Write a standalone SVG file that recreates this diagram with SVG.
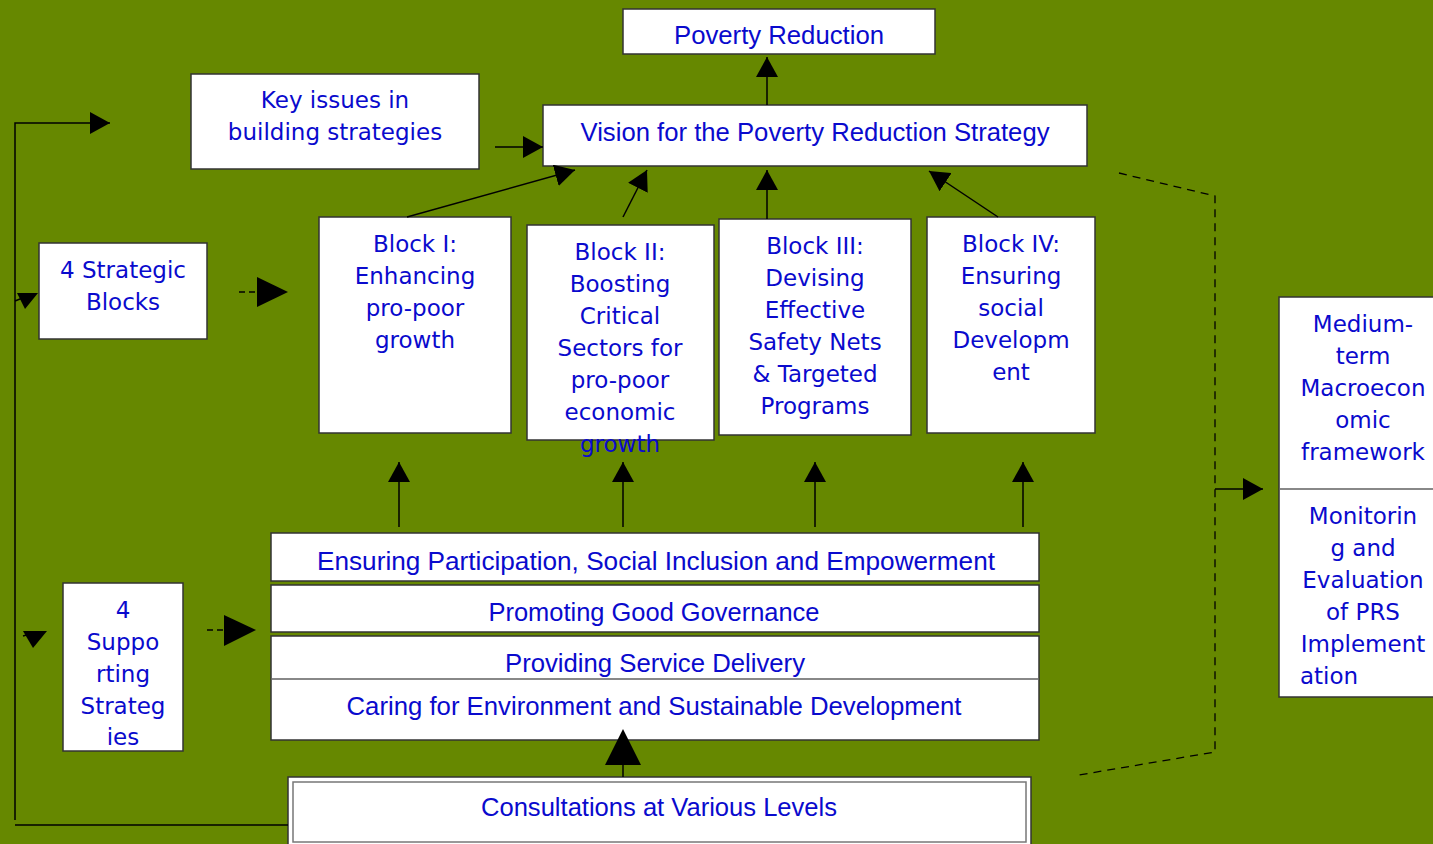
<svg xmlns="http://www.w3.org/2000/svg" width="1433" height="844" viewBox="0 0 1433 844">
<defs>
<style>
.box{fill:#fff;stroke:#333;stroke-width:1.5}
.t{font-family:"DejaVu Sans",Tahoma,sans-serif;font-size:23px;fill:#0a0acd;text-anchor:middle}
.n{font-family:"Liberation Sans",Arial,sans-serif;font-size:25px;fill:#0a0acd;text-anchor:middle}
.c{stroke:#000;stroke-width:1.5;fill:none}
.d{stroke:#000;stroke-width:1.3;fill:none;stroke-dasharray:8,6}
.h{fill:#000}
.div{stroke:#888;stroke-width:2}
</style>
<marker id="ah" viewBox="0 0 20 22" refX="20" refY="11" markerWidth="20" markerHeight="22" orient="auto" markerUnits="userSpaceOnUse"><path d="M0,0 L20,11 L0,22 z" fill="#000"/></marker>
</defs>
<rect x="0" y="0" width="1433" height="844" fill="#668800"/>

<g id="poverty-reduction">
<rect class="box" x="623" y="9" width="312" height="45"/>
<text class="n" x="779" y="44" textLength="210" lengthAdjust="spacingAndGlyphs">Poverty Reduction</text>
</g>
<g id="vision">
<rect class="box" x="543" y="105" width="544" height="61"/>
<text class="n" x="815" y="141" textLength="469" lengthAdjust="spacingAndGlyphs">Vision for the Poverty Reduction Strategy</text>
</g>
<g id="key-issues">
<rect class="box" x="191" y="74" width="288" height="95"/>
<text class="t" x="335" y="108">Key issues in</text>
<text class="t" x="335" y="140">building strategies</text>
</g>
<g id="strategic-blocks">
<rect class="box" x="39" y="243" width="168" height="96"/>
<text class="t" x="123" y="278">4 Strategic</text>
<text class="t" x="123" y="310">Blocks</text>
</g>
<g id="block1">
<rect class="box" x="319" y="217" width="192" height="216"/>
<text class="t" x="415" y="252">Block I:</text>
<text class="t" x="415" y="284">Enhancing</text>
<text class="t" x="415" y="316">pro-poor</text>
<text class="t" x="415" y="348">growth</text>
</g>
<g id="block2">
<rect class="box" x="527" y="225" width="187" height="215"/>
<text class="t" x="620" y="260">Block II:</text>
<text class="t" x="620" y="292">Boosting</text>
<text class="t" x="620" y="324">Critical</text>
<text class="t" x="620" y="356">Sectors for</text>
<text class="t" x="620" y="388">pro-poor</text>
<text class="t" x="620" y="420">economic</text>
<text class="t" x="620" y="452">growth</text>
</g>
<g id="block3">
<rect class="box" x="719" y="219" width="192" height="216"/>
<text class="t" x="815" y="254">Block III:</text>
<text class="t" x="815" y="286">Devising</text>
<text class="t" x="815" y="318">Effective</text>
<text class="t" x="815" y="350">Safety Nets</text>
<text class="t" x="815" y="382">&amp; Targeted</text>
<text class="t" x="815" y="414">Programs</text>
</g>
<g id="block4">
<rect class="box" x="927" y="217" width="168" height="216"/>
<text class="t" x="1011" y="252">Block IV:</text>
<text class="t" x="1011" y="284">Ensuring</text>
<text class="t" x="1011" y="316">social</text>
<text class="t" x="1011" y="348">Developm</text>
<text class="t" x="1011" y="380">ent</text>
</g>
<g id="supporting-strategies">
<rect class="box" x="63" y="583" width="120" height="168"/>
<text class="t" x="123" y="618">4</text>
<text class="t" x="123" y="650">Suppo</text>
<text class="t" x="123" y="682">rting</text>
<text class="t" x="123" y="714">Strateg</text>
<text class="t" x="123" y="745">ies</text>
</g>
<g id="participation">
<rect class="box" x="271" y="533" width="768" height="48"/>
<text class="n" x="656" y="570" textLength="678" lengthAdjust="spacingAndGlyphs">Ensuring Participation, Social Inclusion and Empowerment</text>
</g>
<g id="governance">
<rect class="box" x="271" y="585" width="768" height="47"/>
<text class="n" x="654" y="621" textLength="331" lengthAdjust="spacingAndGlyphs">Promoting Good Governance</text>
</g>
<g id="service-environment">
<rect class="box" x="271" y="636" width="768" height="104"/>
<line class="div" x1="272" y1="679" x2="1038" y2="679"/>
<text class="n" x="655" y="672" textLength="300" lengthAdjust="spacingAndGlyphs">Providing Service Delivery</text>
<text class="n" x="654" y="715" textLength="615" lengthAdjust="spacingAndGlyphs">Caring for Environment and Sustainable Development</text>
</g>
<g id="consultations">
<rect class="box" x="288" y="777" width="743" height="80"/>
<rect class="box" x="293" y="782" width="733" height="60" style="stroke:#777"/>
<text class="n" x="659" y="816" textLength="356" lengthAdjust="spacingAndGlyphs">Consultations at Various Levels</text>
</g>
<g id="right-frameworks">
<rect class="box" x="1279" y="297" width="160" height="400"/>
<line class="div" x1="1280" y1="489" x2="1433" y2="489"/>
<text class="t" x="1363" y="332">Medium-</text>
<text class="t" x="1363" y="364">term</text>
<text class="t" x="1363" y="396">Macroecon</text>
<text class="t" x="1363" y="428">omic</text>
<text class="t" x="1363" y="460">framework</text>
<text class="t" x="1363" y="524">Monitorin</text>
<text class="t" x="1363" y="556">g and</text>
<text class="t" x="1363" y="588">Evaluation</text>
<text class="t" x="1363" y="620">of PRS</text>
<text class="t" x="1363" y="652">Implement</text>
<text class="t" x="1329" y="684">ation</text>
</g>

<g id="connectors">
<line class="c" x1="767" y1="105" x2="767" y2="57" marker-end="url(#ah)"/>
<line class="c" x1="495" y1="147" x2="543" y2="147" marker-end="url(#ah)"/>
<line class="c" x1="407" y1="217" x2="575" y2="170" marker-end="url(#ah)"/>
<line class="c" x1="623" y1="217" x2="647" y2="170" marker-end="url(#ah)"/>
<line class="c" x1="767" y1="219" x2="767" y2="170" marker-end="url(#ah)"/>
<line class="c" x1="998" y1="217" x2="929" y2="171" marker-end="url(#ah)"/>
<line class="c" x1="399" y1="527" x2="399" y2="462" marker-end="url(#ah)"/>
<line class="c" x1="623" y1="527" x2="623" y2="462" marker-end="url(#ah)"/>
<line class="c" x1="815" y1="527" x2="815" y2="462" marker-end="url(#ah)"/>
<line class="c" x1="1023" y1="527" x2="1023" y2="462" marker-end="url(#ah)"/>
<line class="c" x1="623" y1="765" x2="623" y2="777"/>
<polygon class="h" points="605,765 623,729 641,765"/>
<polyline class="c" points="288,825 15,825"/>
<polyline class="c" points="15,820 15,123 110,123" marker-end="url(#ah)"/>
<line class="c" x1="15" y1="301" x2="25" y2="297"/>
<polygon class="h" points="17,293 38,293 25,309"/>
<line class="c" x1="23" y1="636" x2="30" y2="634"/>
<polygon class="h" points="23,631 47,631 33,648"/>
<line class="d" x1="239" y1="292" x2="257" y2="292" style="stroke-dasharray:6,4"/>
<polygon class="h" points="257,277 288,292 257,307"/>
<line class="d" x1="207" y1="630" x2="224" y2="630" style="stroke-dasharray:6,4"/>
<polygon class="h" points="224,615 256,630 224,646"/>
<polyline class="d" points="1119,173 1215,196 1215,752 1079,775"/>
<line class="c" x1="1215" y1="489" x2="1263" y2="489" marker-end="url(#ah)"/>
</g>
</svg>
